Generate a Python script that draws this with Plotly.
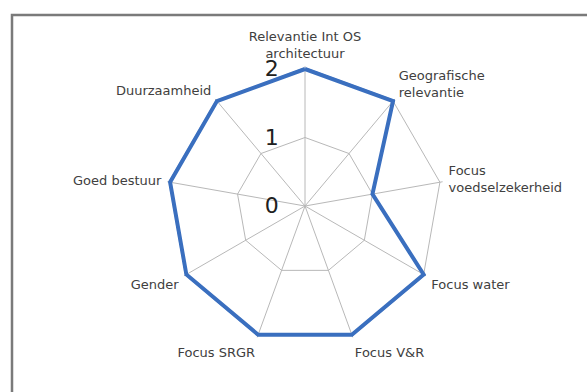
import plotly.graph_objects as go

# Assessment criteria, clockwise from the top
categories = [
    "Relevantie Int OS<br>architectuur",
    "Geografische<br>relevantie",
    "Focus<br>voedselzekerheid",
    "Focus water",
    "Focus V&R",
    "Focus SRGR",
    "Gender",
    "Goed bestuur",
    "Duurzaamheid",
]
scores = [2, 2, 1, 2, 2, 2, 2, 2, 2]
radial_ticks = [0, 1, 2]
r_max = 2.04  # small headroom so the thick outline is not clipped at the edge

W, H = 587, 392
cx, cy = 305, 206          # centre in pixels
R = 137 * r_max / 2        # pixel radius of the polar area

fig = go.Figure()
fig.add_trace(go.Scatterpolar(
    r=scores + scores[:1],
    theta=categories + categories[:1],
    mode="lines",
    line=dict(color="#3A6FBF", width=4),
    cliponaxis=False,
    hoverinfo="skip",
    showlegend=False,
))

fig.update_layout(
    width=W, height=H,
    margin=dict(l=0, r=0, t=0, b=0),
    paper_bgcolor="white",
    font=dict(family="DejaVu Sans, sans-serif", color="#404040", size=13),
    polar=dict(
        domain=dict(x=[(cx - R) / W, (cx + R) / W],
                    y=[(H - cy - R) / H, (H - cy + R) / H]),
        bgcolor="white",
        gridshape="linear",
        angularaxis=dict(
            direction="clockwise",
            rotation=90,
            showline=False,
            gridcolor="#B8B8B8",
            gridwidth=1,
            layer="below traces",
            ticks="outside",
            ticklen=3,
            tickcolor="rgba(0,0,0,0)",
            tickfont=dict(size=13, color="#404040"),
        ),
        radialaxis=dict(
            range=[0, r_max],
            tickvals=radial_ticks,
            ticktext=[str(v) for v in radial_ticks],
            angle=90,
            side="counterclockwise",
            showline=False,
            gridcolor="#B8B8B8",
            gridwidth=1,
            layer="below traces",
            ticks="outside",
            ticklen=18,
            tickcolor="rgba(0,0,0,0)",
            tickfont=dict(size=22, color="#202020"),
            tickangle=90,
        ),
    ),
    shapes=[dict(
        type="rect", xref="paper", yref="paper",
        x0=12 / W, x1=1.02, y0=-0.05, y1=(H - 15) / H,
        line=dict(color="#7A7A7A", width=2.5),
        fillcolor="rgba(0,0,0,0)",
        layer="below",
    )],
)

fig.write_html("out.html")
